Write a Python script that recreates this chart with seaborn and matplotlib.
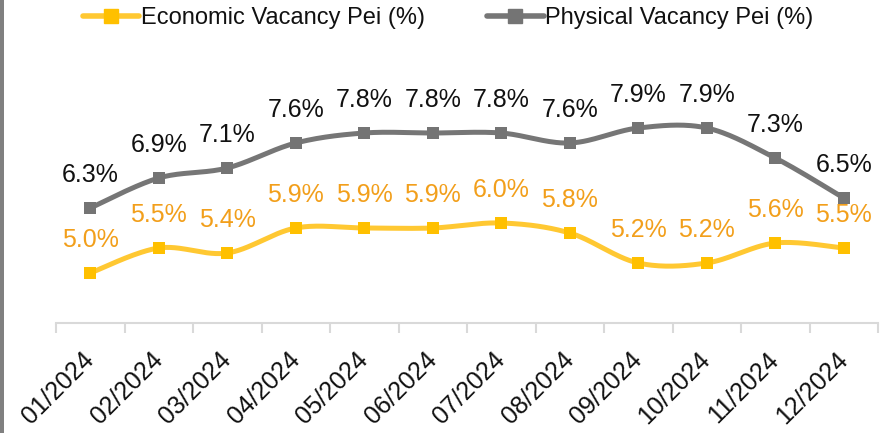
import numpy as np
import pandas as pd
import matplotlib
matplotlib.use("Agg")
import matplotlib.pyplot as plt
from matplotlib.patches import Rectangle
from matplotlib.lines import Line2D
import seaborn as sns

months = ["01/2024", "02/2024", "03/2024", "04/2024", "05/2024", "06/2024",
          "07/2024", "08/2024", "09/2024", "10/2024", "11/2024", "12/2024"]
economic = [5.0, 5.5, 5.4, 5.9, 5.9, 5.9, 6.0, 5.8, 5.2, 5.2, 5.6, 5.5]
physical = [6.3, 6.9, 7.1, 7.6, 7.8, 7.8, 7.8, 7.6, 7.9, 7.9, 7.3, 6.5]
series_names = ["Economic Vacancy Pei (%)", "Physical Vacancy Pei (%)"]

sns.set_theme(style="white")
plt.rcParams['font.family'] = ['Liberation Sans', 'DejaVu Sans']

ECON_LINE = "#FFC832"
ECON_MARK = "#FFC000"
ECON_TEXT = "#F29F1B"
PHYS_LINE = "#767676"
PHYS_MARK = "#747474"


def smooth(xs, ys, n=30):
    # Catmull-Rom style curve through the data points (like Excel smoothed line)
    xs = np.asarray(xs, float)
    ys = np.asarray(ys, float)
    px = np.concatenate([[xs[0]], xs, [xs[-1]]])
    py = np.concatenate([[ys[0]], ys, [ys[-1]]])
    out_x, out_y = [], []
    t = np.linspace(0, 1, n, endpoint=False)
    for i in range(1, len(px) - 2):
        p0x, p1x, p2x, p3x = px[i - 1], px[i], px[i + 1], px[i + 2]
        p0y, p1y, p2y, p3y = py[i - 1], py[i], py[i + 1], py[i + 2]
        c1x = p1x + (p2x - p0x) / 6
        c1y = p1y + (p2y - p0y) / 6
        c2x = p2x - (p3x - p1x) / 6
        c2y = p2y - (p3y - p1y) / 6
        b0 = (1 - t) ** 3
        b1 = 3 * (1 - t) ** 2 * t
        b2 = 3 * (1 - t) * t ** 2
        b3 = t ** 3
        out_x.extend(b0 * p1x + b1 * c1x + b2 * c2x + b3 * p2x)
        out_y.extend(b0 * p1y + b1 * c1y + b2 * c2y + b3 * p2y)
    out_x.append(xs[-1])
    out_y.append(ys[-1])
    return np.array(out_x), np.array(out_y)


fig = plt.figure(figsize=(8.8, 4.33), dpi=100)
ax = fig.add_axes([56 / 880, 1 - 323 / 433, (878 - 56) / 880, (323 - 23) / 433])

xpos = np.arange(len(months))
for vals, lc, mc in [(economic, ECON_LINE, ECON_MARK), (physical, PHYS_LINE, PHYS_MARK)]:
    sx, sy = smooth(xpos, vals)
    df_s = pd.DataFrame({"x": sx, "y": sy})
    sns.lineplot(data=df_s, x="x", y="y", ax=ax, color=lc, linewidth=3.6,
                 sort=False, estimator=None)
    df_p = pd.DataFrame({"x": xpos, "y": vals})
    sns.scatterplot(data=df_p, x="x", y="y", ax=ax, marker="s", s=80,
                    color=mc, edgecolor=mc, linewidth=0, zorder=5)

for i, v in enumerate(economic):
    ax.annotate(f"{v:.1f}%", (xpos[i], v), xytext=(0, 15), textcoords="offset points",
                ha="center", va="bottom", fontsize=18, color=ECON_TEXT)
for i, v in enumerate(physical):
    ax.annotate(f"{v:.1f}%", (xpos[i], v), xytext=(0, 15), textcoords="offset points",
                ha="center", va="bottom", fontsize=18, color="#111111")

ax.set_xlim(-0.5, len(months) - 0.5)
ax.set_ylim(4, 10)
ax.set_xlabel("")
ax.set_ylabel("")
ax.set_yticks([])
ax.set_xticks(xpos)
ax.set_xticklabels(months, rotation=45, ha="right", va="center",
                   rotation_mode="anchor", fontsize=18, color="#111111")
ax.tick_params(axis="x", which="major", bottom=False, length=0, pad=24)
ax.set_xticks(np.arange(-0.5, len(months), 1.0), minor=True)
ax.tick_params(axis="x", which="minor", bottom=True, length=7, width=1.5,
               color="#D9D9D9", direction="out")
for s in ["top", "right", "left"]:
    ax.spines[s].set_visible(False)
ax.spines["bottom"].set_color("#D9D9D9")
ax.spines["bottom"].set_linewidth(1.5)

fig.patches.append(Rectangle((0, 0), 4 / 880, 1, transform=fig.transFigure,
                             facecolor="#808080", edgecolor="none"))

handles = [
    Line2D([0], [0], color=ECON_LINE, lw=4, marker="s", markersize=10,
           markerfacecolor=ECON_MARK, markeredgecolor=ECON_MARK, solid_capstyle="round"),
    Line2D([0], [0], color=PHYS_LINE, lw=4, marker="s", markersize=10,
           markerfacecolor=PHYS_MARK, markeredgecolor=PHYS_MARK, solid_capstyle="round"),
]
fig.legend(handles, series_names, loc="center", bbox_to_anchor=(448 / 880, 1 - 18 / 433),
           ncol=2, frameon=False, fontsize=17, handlelength=2.4, handletextpad=0.05,
           columnspacing=2.65, labelcolor="#111111")

fig.savefig("out.png", dpi=100)
